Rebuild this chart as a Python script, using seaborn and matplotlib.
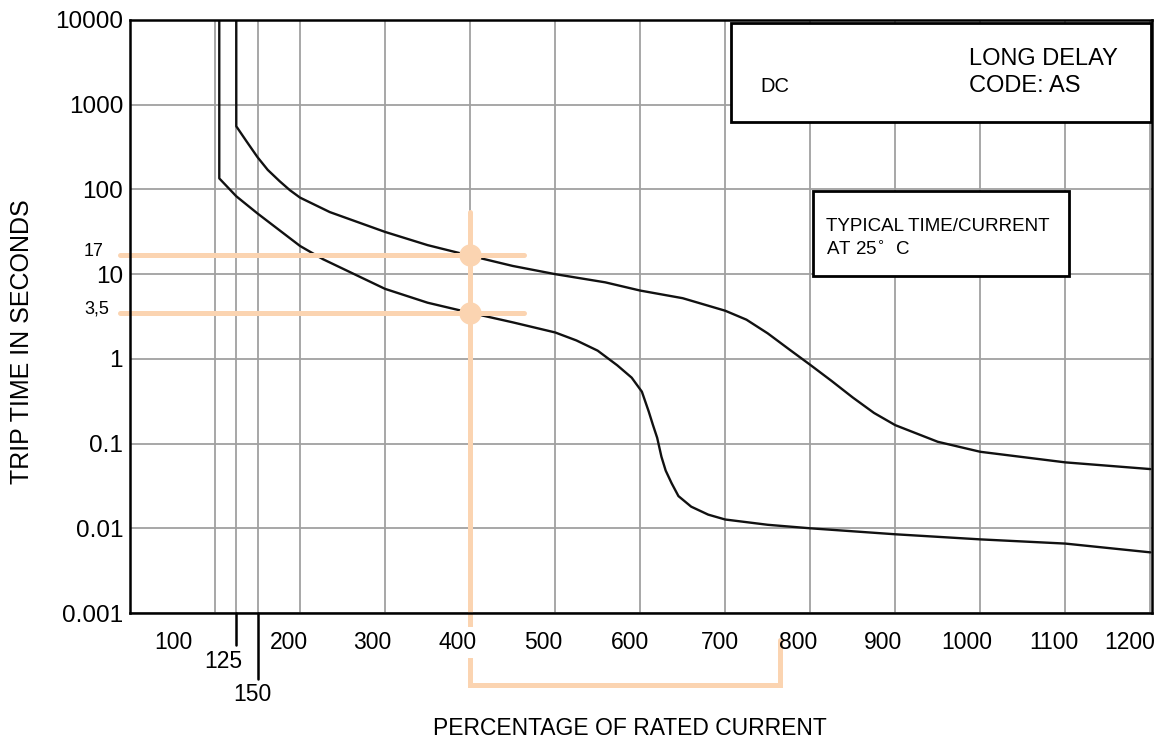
import pandas as pd
import matplotlib
matplotlib.use("Agg")
import matplotlib.pyplot as plt
from matplotlib.patches import Rectangle
import seaborn as sns

# curves (percent of rated current, seconds)
upper_pct = [125, 125, 137, 150, 162, 176, 188, 200, 235, 300, 350, 400, 450, 500, 559, 600,
             650, 700, 725, 750, 775, 800, 825, 850, 875, 900, 950, 1000, 1100, 1200]
upper_sec = [10000, 556, 370, 240, 170, 125, 98, 80, 54, 31.5, 22, 16.5, 12.5, 10, 8.0, 6.4,
             5.2, 3.7, 2.9, 2.0, 1.3, 0.85, 0.55, 0.35, 0.23, 0.165, 0.105, 0.08, 0.06, 0.05]

lower_pct = [105, 105, 125, 150, 200, 227, 300, 350, 400, 450, 500, 525, 550, 573, 590, 602,
             610, 615, 620, 625, 630, 637, 645, 660, 680, 700, 750, 800, 900, 1000, 1100, 1200]
lower_sec = [10000, 135, 83, 52, 21.5, 15, 6.7, 4.6, 3.5, 2.7, 2.05, 1.65, 1.25, 0.84, 0.6, 0.41,
             0.24, 0.166, 0.117, 0.07, 0.048, 0.034, 0.024, 0.018, 0.0145, 0.0127, 0.011,
             0.0100, 0.0085, 0.0074, 0.0066, 0.0052]

# reading marked in orange on the chart
read_pct = 400
read_sec = [17, 3.5]
read_labels = ["17", "3,5"]

# axis ticks
ytick_vals = [0.001, 0.01, 0.1, 1, 10, 100, 1000, 10000]
ytick_labels = ["0.001", "0.01", "0.1", "1", "10", "100", "1000", "10000"]
xgrid_vals = [100, 125, 150, 200, 300, 400, 500, 600, 700, 800, 900, 1000, 1100, 1200]
xtick_labels = ["100", "200", "300", "400", "500", "600", "700", "800", "900", "1000", "1100", "1200"]
xtick_pos = [51, 187, 285, 385, 486, 588, 694, 786, 885, 984, 1087, 1176]
extra_ticks = [125, 150]

sns.set_style("white")
plt.rcParams["font.family"] = ["Liberation Sans", "DejaVu Sans"]
plt.rcParams["text.color"] = "black"
plt.rcParams["xtick.color"] = "black"
plt.rcParams["ytick.color"] = "black"

df = pd.concat([
    pd.DataFrame({"pct": upper_pct, "sec": upper_sec, "curve": "upper"}),
    pd.DataFrame({"pct": lower_pct, "sec": lower_sec, "curve": "lower"}),
])

fig = plt.figure(figsize=(11.69, 7.40), dpi=100)
ax = fig.add_axes([0.1112, 0.1716, 0.8743, 0.8014])

ax.set_yscale("log")
ax.set_xlim(0, 1202)
ax.set_ylim(0.001, 10000)

# grid drawn by hand so it stays under the curves
grid_kw = dict(color="#a0a0a0", lw=1.3, zorder=1)
for v in xgrid_vals:
    ax.axvline(v, **grid_kw)
for v in ytick_vals:
    ax.axhline(v, **grid_kw)

sns.lineplot(data=df, x="pct", y="sec", units="curve", estimator=None, sort=False,
             color="#111111", lw=1.7, ax=ax, zorder=3)

# boxes
ax.add_patch(Rectangle((0.588, 0.828), 0.411, 0.167, transform=ax.transAxes,
                       facecolor="white", edgecolor="black", lw=2, zorder=4))
ax.add_patch(Rectangle((0.668, 0.568), 0.251, 0.144, transform=ax.transAxes,
                       facecolor="white", edgecolor="black", lw=2, zorder=4))
ax.text(0.617, 0.887, "DC", transform=ax.transAxes, fontsize=14.5, va="center", zorder=5)
ax.text(0.821, 0.934, "LONG DELAY", transform=ax.transAxes, fontsize=17, va="center", zorder=5)
ax.text(0.821, 0.889, "CODE: AS", transform=ax.transAxes, fontsize=17, va="center", zorder=5)
ax.text(0.681, 0.652, "TYPICAL TIME/CURRENT", transform=ax.transAxes, fontsize=13.5, va="center", zorder=5)
ax.text(0.681, 0.614, "AT 25$^{\\circ}$  C", transform=ax.transAxes, fontsize=13.5, va="center", zorder=5)

# orange reading marks
orange = "#fbd4b1"
xt = ax.get_xaxis_transform()
ax.plot([read_pct, read_pct, 765, 765], [0.676, -0.121, -0.121, -0.046], transform=xt,
        color=orange, lw=3.6, clip_on=False, zorder=3.5, solid_joinstyle="miter")
for s in read_sec:
    ax.plot([-12, 463], [s, s], color=orange, lw=3.6, clip_on=False, zorder=3.5)
    ax.plot([read_pct], [s], "o", color=orange, ms=15, clip_on=False, zorder=3.6)
yt = ax.get_yaxis_transform()
ax.text(-0.026, read_sec[0] * 1.1, read_labels[0], transform=yt, ha="right", va="center", fontsize=13)
ax.text(-0.020, read_sec[1] * 1.1, read_labels[1], transform=yt, ha="right", va="center", fontsize=13)

# ticks
ax.set_yticks(ytick_vals)
ax.set_yticklabels(ytick_labels)
ax.minorticks_off()
ax.set_xticks(xtick_pos)
ax.set_xticklabels(xtick_labels)
ax.tick_params(axis="x", length=0, pad=13, labelsize=16.5)
ax.tick_params(axis="y", length=0, pad=5, labelsize=17.5)
for lab in ax.get_xticklabels():
    if lab.get_text() == "400":
        lab.set_bbox(dict(facecolor="white", edgecolor="none", pad=3))
ax.xaxis.set_zorder(4)

# 125 / 150 long ticks under the axis
for v, depth, (dx, dy) in zip(extra_ticks, [-0.054, -0.112], [(-9, -35), (-4, -59)]):
    ax.plot([v, v], [0, depth], transform=xt, color="black", lw=1.8, clip_on=False)
    ax.annotate(str(v), xy=(v, 0), xycoords=xt, xytext=(dx, dy), textcoords="offset points",
                ha="center", va="center", fontsize=16.5)

for sp in ax.spines.values():
    sp.set_color("black")
    sp.set_linewidth(1.8)
    sp.set_zorder(6)

fig.text(0.539, 0.015, "PERCENTAGE OF RATED CURRENT", ha="center", va="center", fontsize=16.5)
fig.text(0.019, 0.538, "TRIP TIME IN SECONDS", ha="center", va="center", rotation=90, fontsize=18)

ax.set_xlabel("")
ax.set_ylabel("")
fig.savefig("out.png", dpi=100)
